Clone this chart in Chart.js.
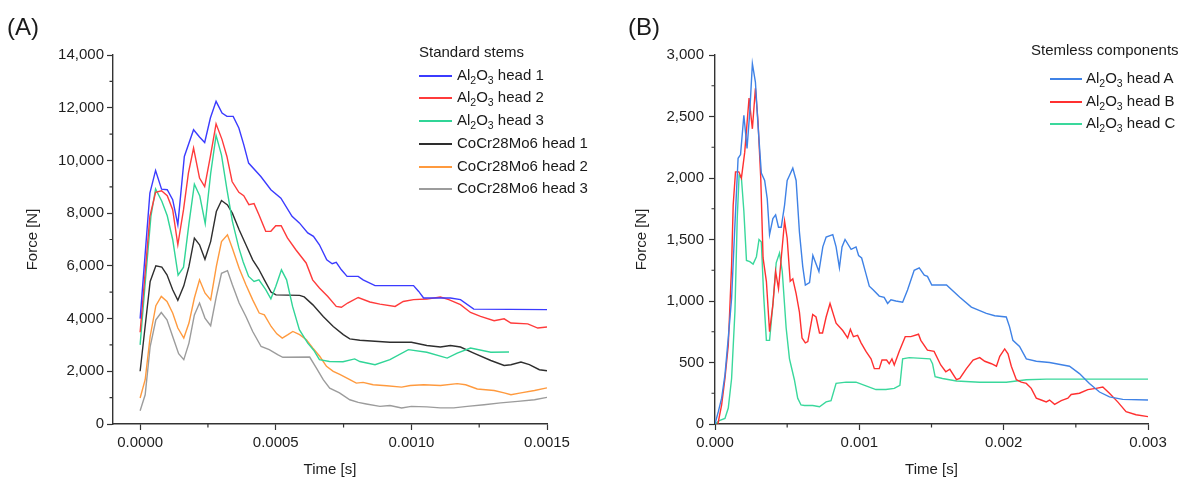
<!DOCTYPE html>
<html>
<head>
<meta charset="utf-8">
<script src="https://cdn.jsdelivr.net/npm/chart.js@4/dist/chart.umd.min.js"></script>
<style>
  html, body { margin: 0; padding: 0; background: #fff; }
  body { width: 1184px; height: 481px; position: relative; overflow: hidden;
         font-family: "Liberation Sans", Arial, sans-serif; color: #1a1a1a; }
  canvas { position: absolute; top: 0; }
  #chartA { left: 0; }
  #chartB { left: 592px; }
  .panel { position: absolute; top: 12px; font-size: 24px; line-height: 30px; }
  .legend-title, .legend-label { position: absolute; font-size: 15px; line-height: 20px; white-space: nowrap; }
  .legend-line { position: absolute; height: 2px; }
  sub { font-size: 10.5px; vertical-align: baseline; position: relative; top: 3.5px; line-height: 0; }
</style>
</head>
<body>
<canvas id="chartA" width="592" height="481"></canvas>
<canvas id="chartB" width="592" height="481"></canvas>
<div class="panel" style="left:7px">(A)</div>
<div class="panel" style="left:628px">(B)</div>
<div id="legendA"></div>
<div id="legendB"></div>
<script>
// ============================================
// DATA  (time [s], force [N])
// ============================================

const leftXTicks = [0, 0.0005, 0.001, 0.0015];
const leftYTicks = [0, 2000, 4000, 6000, 8000, 10000, 12000, 14000];
const rightXTicks = [0, 0.001, 0.002, 0.003];
const rightYTicks = [0, 500, 1000, 1500, 2000, 2500, 3000];

const leftTitle = 'Standard stems';
const leftNames = ['Al2O3 head 1', 'Al2O3 head 2', 'Al2O3 head 3',
                   'CoCr28Mo6 head 1', 'CoCr28Mo6 head 2', 'CoCr28Mo6 head 3'];
const rightTitle = 'Stemless components';
const rightNames = ['Al2O3 head A', 'Al2O3 head B', 'Al2O3 head C'];

const alHead1 = [[0,4000],[0.000036,8760],[0.000057,9620],[0.000079,8910],[0.0001,8890],[0.00012,8510],
  [0.000139,7560],[0.000163,10150],[0.000197,11165],[0.000219,10890],[0.000238,10680],[0.000259,11610],
  [0.00028,12240],[0.000302,11800],[0.00032,11670],[0.000343,11670],[0.000364,11230],[0.000382,10600],
  [0.0004,9900],[0.000445,9390],[0.000482,8890],[0.000519,8570],[0.00056,7880],[0.000587,7630],
  [0.000618,7250],[0.000639,7120],[0.000661,6800],[0.000688,6230],[0.000708,6080],[0.000723,6130],
  [0.000742,5850],[0.000763,5600],[0.000804,5600],[0.000822,5470],[0.000866,5250],[0.001008,5250],
  [0.001027,5030],[0.001045,4780],[0.001144,4780],[0.001181,4720],[0.00123,4360],[0.0015,4340]];

const alHead2 = [[0,3480],[0.000036,7880],[0.000057,8790],[0.000079,8850],[0.0001,8660],[0.00012,8130],
  [0.000139,6800],[0.00016,8130],[0.000178,9520],[0.000197,10470],[0.000219,9330],[0.000238,9010],
  [0.000259,10150],[0.00028,11390],[0.000302,10790],[0.00032,10150],[0.000339,9200],[0.000364,8790],
  [0.000382,8660],[0.000401,8320],[0.00042,8360],[0.000438,7940],[0.000463,7310],[0.000482,7310],
  [0.0005,7520],[0.00052,7520],[0.000543,7060],[0.000574,6610],[0.000612,6110],[0.000636,5470],
  [0.000661,5160],[0.000692,4840],[0.000723,4460],[0.000742,4430],[0.000765,4590],[0.000804,4800],
  [0.000847,4630],[0.000884,4550],[0.00094,4460],[0.00097,4650],[0.001008,4720],[0.001057,4740],
  [0.001107,4820],[0.001138,4720],[0.001181,4530],[0.001218,4230],[0.001255,4080],[0.001305,3920],
  [0.001342,3990],[0.001367,3830],[0.001429,3800],[0.001466,3640],[0.0015,3680]];

const alHead3 = [[0,3000],[0.00002,5500],[0.00004,7900],[0.000057,8920],[0.00008,8450],[0.0001,7900],
  [0.00012,7000],[0.00014,5650],[0.00016,5950],[0.00018,7600],[0.0002,9100],[0.00022,8650],
  [0.00024,7600],[0.00026,9500],[0.00028,10950],[0.0003,10200],[0.00032,8900],[0.00034,7700],
  [0.000364,6680],[0.00038,6150],[0.0004,5600],[0.00042,5410],[0.000438,5470],[0.000463,5100],
  [0.000482,4750],[0.0005,5220],[0.000521,5850],[0.00054,5470],[0.000562,4460],[0.000587,3580],
  [0.000618,3070],[0.00064,2800],[0.000661,2440],[0.000698,2370],[0.000748,2360],[0.000791,2470],
  [0.00081,2370],[0.000866,2250],[0.000921,2440],[0.000989,2820],[0.001057,2720],[0.001132,2500],
  [0.001169,2690],[0.001218,2880],[0.001293,2720],[0.00136,2730]];

const coHead1 = [[0,2000],[0.000037,5410],[0.000058,6000],[0.00008,5950],[0.000099,5660],[0.00012,5090],
  [0.000139,4690],[0.000161,5240],[0.00018,5980],[0.0002,7050],[0.000219,6800],[0.000239,6250],
  [0.00026,6920],[0.000281,8060],[0.0003,8480],[0.000322,8310],[0.00034,8000],[0.000365,7370],
  [0.00039,6800],[0.000415,6230],[0.000437,5880],[0.000458,5470],[0.000483,5000],[0.000501,4900],
  [0.000588,4880],[0.000605,4820],[0.000637,4520],[0.000675,4080],[0.000712,3700],[0.000749,3390],
  [0.000773,3230],[0.00081,3180],[0.000921,3100],[0.001,3100],[0.001057,2980],[0.001107,2920],
  [0.001144,2980],[0.001181,2920],[0.00123,2690],[0.001293,2410],[0.001342,2220],[0.001367,2250],
  [0.001404,2350],[0.001435,2250],[0.001472,2060],[0.0015,2020]];

const coHead2 = [[0,985],[0.0000186,1680],[0.000037,3320],[0.000058,4490],[0.000078,4840],[0.000099,4650],
  [0.00012,4210],[0.000139,3640],[0.000161,3260],[0.00018,3830],[0.0002,4780],[0.000219,5470],
  [0.000239,4970],[0.00026,4710],[0.000281,5980],[0.0003,6920],[0.000322,7180],[0.00034,6670],
  [0.000365,5910],[0.00039,5280],[0.000415,4710],[0.000439,4210],[0.000458,4140],[0.000483,3700],
  [0.000504,3420],[0.000524,3260],[0.000545,3390],[0.000563,3510],[0.000588,3390],[0.000613,3200],
  [0.000637,2880],[0.000662,2570],[0.000687,2190],[0.000712,2000],[0.000736,1880],[0.000773,1680],
  [0.000797,1550],[0.000822,1580],[0.000859,1490],[0.000909,1450],[0.000964,1400],[0.000996,1460],
  [0.001045,1490],[0.001107,1460],[0.001169,1530],[0.0012,1490],[0.001243,1330],[0.001305,1270],
  [0.001342,1180],[0.001367,1110],[0.001404,1180],[0.001454,1270],[0.0015,1370]];

const coHead3 = [[0,505],[0.0000186,1110],[0.000037,2940],[0.000058,3950],[0.000078,4230],[0.000099,3950],
  [0.00012,3320],[0.000142,2670],[0.000161,2440],[0.00018,3070],[0.0002,4140],[0.000219,4590],
  [0.000239,4020],[0.00026,3730],[0.000281,4840],[0.0003,5720],[0.000322,5820],[0.00034,5280],
  [0.000365,4590],[0.00039,4080],[0.000415,3510],[0.000446,2940],[0.000476,2820],[0.000507,2630],
  [0.000526,2530],[0.000625,2540],[0.00065,2120],[0.000675,1680],[0.000699,1360],[0.000735,1180],
  [0.000773,920],[0.000804,820],[0.000834,760],[0.000884,670],[0.000921,700],[0.000964,610],
  [0.001,670],[0.001057,650],[0.001107,610],[0.001156,610],[0.001206,670],[0.001268,730],
  [0.001329,800],[0.001392,860],[0.001454,920],[0.0015,1010]];

const alHeadA = [[0,0],[0.000023,100],[0.000046,210],[0.000069,400],[0.000092,700],[0.000115,1020],
  [0.000138,1620],[0.00016,2160],[0.000177,2190],[0.0002,2510],[0.000222,2240],[0.000241,2540],
  [0.000259,2930],[0.00028,2780],[0.000298,2430],[0.000321,2040],[0.000344,1980],[0.000362,1830],
  [0.000378,1540],[0.000401,1670],[0.00042,1700],[0.00044,1600],[0.000459,1600],[0.000482,1780],
  [0.0005,1980],[0.000516,2020],[0.000539,2080],[0.000562,1980],[0.000585,1560],[0.000608,1280],
  [0.000626,1130],[0.000655,1150],[0.000678,1370],[0.00072,1240],[0.000747,1440],[0.00077,1520],
  [0.000816,1540],[0.000839,1440],[0.000862,1270],[0.00088,1440],[0.000901,1500],[0.000943,1420],
  [0.000977,1440],[0.000995,1370],[0.001016,1350],[0.001046,1220],[0.001069,1120],[0.001097,1090],
  [0.001138,1040],[0.001172,1030],[0.001196,980],[0.001219,1010],[0.001253,1000],[0.0013,990],
  [0.001334,1090],[0.00138,1250],[0.001415,1270],[0.00145,1210],[0.001472,1200],[0.001502,1130],
  [0.001604,1130],[0.001696,1030],[0.001776,950],[0.00188,900],[0.001938,880],[0.002018,870],
  [0.002041,790],[0.002064,680],[0.00211,630],[0.002157,530],[0.002226,510],[0.002318,500],
  [0.00241,480],[0.002456,470],[0.002525,410],[0.002594,330],[0.002664,260],[0.002733,220],
  [0.002825,200],[0.003,195]];

const alHeadB = [[0.00002,0],[0.000046,155],[0.000069,370],[0.000092,640],[0.000115,1290],[0.000126,1780],
  [0.000142,2050],[0.000165,2050],[0.000183,2000],[0.000206,2210],[0.000236,2650],[0.000259,2400],
  [0.00028,2730],[0.000298,2460],[0.000317,2000],[0.000333,1350],[0.000356,1160],[0.000378,750],
  [0.000401,970],[0.00042,1240],[0.00044,1100],[0.000459,1350],[0.000482,1650],[0.0005,1510],
  [0.000521,1160],[0.000539,1180],[0.000562,1060],[0.000585,910],[0.000603,700],[0.000626,660],
  [0.000643,670],[0.000677,890],[0.0007,870],[0.000724,740],[0.000745,740],[0.00077,870],
  [0.000797,980],[0.000839,820],[0.000885,760],[0.000919,700],[0.000938,770],[0.000959,710],
  [0.000988,720],[0.001012,660],[0.001046,590],[0.001081,530],[0.001104,450],[0.001138,450],
  [0.001157,520],[0.001189,520],[0.001207,490],[0.001226,530],[0.001242,480],[0.001276,590],
  [0.001318,710],[0.001357,710],[0.00141,730],[0.001426,680],[0.001472,600],[0.001518,590],
  [0.001564,480],[0.001599,425],[0.001627,445],[0.001673,360],[0.001696,370],[0.001742,450],
  [0.001788,520],[0.001834,540],[0.001869,510],[0.001915,490],[0.00195,470],[0.001973,550],
  [0.002007,610],[0.00203,570],[0.002053,470],[0.002088,360],[0.002122,340],[0.002157,330],
  [0.002191,290],[0.002226,210],[0.00226,195],[0.002295,180],[0.002318,195],[0.002353,160],
  [0.002399,190],[0.002445,210],[0.002468,240],[0.002525,250],[0.002583,280],[0.00264,290],
  [0.002687,300],[0.002733,250],[0.00279,180],[0.002848,100],[0.002917,75],[0.003,60]];

const alHeadC = [[0,0],[0.000034,30],[0.000069,45],[0.000092,130],[0.000115,370],[0.000138,910],
  [0.000154,1670],[0.000167,2020],[0.000183,2000],[0.0002,1730],[0.000218,1330],[0.000241,1320],
  [0.000264,1300],[0.000287,1360],[0.000305,1500],[0.000321,1480],[0.000337,1050],[0.000356,680],
  [0.000378,680],[0.000401,970],[0.000424,1310],[0.000447,1390],[0.000466,1240],[0.000493,780],
  [0.000516,530],[0.00055,360],[0.000573,210],[0.000596,155],[0.00062,150],[0.000677,150],
  [0.000724,140],[0.00077,180],[0.000804,190],[0.000839,330],[0.000908,340],[0.000977,340],
  [0.001046,310],[0.001115,280],[0.001184,280],[0.001242,290],[0.001281,315],[0.0013,530],
  [0.001346,540],[0.00149,530],[0.001507,490],[0.001525,385],[0.001576,370],[0.001673,350],
  [0.001834,340],[0.002018,340],[0.002157,360],[0.002295,365],[0.003,365]];

const leftSeries = [alHead1, alHead2, alHead3, coHead1, coHead2, coHead3];
const rightSeries = [alHeadA, alHeadB, alHeadC];

// ============================================
// STYLE
// ============================================

const leftColors = ['#3b3bff', '#ff3b3b', '#30d597', '#2e2e2e', '#ff9a3e', '#9c9c9c'];
const rightColors = ['#3f82e6', '#ff3030', '#3ad89c'];
const axisColor = '#333';
const textColor = '#1e1e1e';

Chart.defaults.font.family = '"Liberation Sans", Arial, sans-serif';
Chart.defaults.font.size = 15;
Chart.defaults.color = textColor;

// short outward ticks halfway between the labelled ones
function minorTicksPlugin(xMajor, yMajor) {
    const mid = arr => arr.slice(1).map((v, i) => (v + arr[i]) / 2);
    const xs = mid(xMajor), ys = mid(yMajor);
    return {
        id: 'minorTicks',
        afterDraw(chart) {
            const ctx = chart.ctx;
            const x = chart.scales.x, y = chart.scales.y;
            ctx.save();
            ctx.strokeStyle = axisColor;
            ctx.lineWidth = 1.2;
            ctx.beginPath();
            xs.forEach(v => {
                const px = x.getPixelForValue(v);
                ctx.moveTo(px, x.top);
                ctx.lineTo(px, x.top + 3.5);
            });
            ys.forEach(v => {
                const py = y.getPixelForValue(v);
                ctx.moveTo(y.right, py);
                ctx.lineTo(y.right - 3.5, py);
            });
            ctx.stroke();
            ctx.restore();
        }
    };
}

function makeChart(id, o) {
    const datasets = o.series.map((s, i) => ({
        label: o.names[i],
        data: s.map(p => ({ x: p[0], y: p[1] })),
        borderColor: o.colors[i],
        borderWidth: 1.4,
        pointRadius: 0,
        tension: 0,
        fill: false
    }));
    const gridOpts = { drawOnChartArea: false, drawTicks: true, tickLength: 6, tickColor: axisColor, tickWidth: 1.2 };
    const borderOpts = { display: true, color: axisColor, width: 1.4 };
    return new Chart(document.getElementById(id), {
        type: 'line',
        data: { datasets },
        plugins: [minorTicksPlugin(o.xTicks, o.yTicks)],
        options: {
            responsive: false,
            animation: false,
            devicePixelRatio: 1,
            layout: { padding: { left: 0, top: 55, right: o.padRight, bottom: 0 } },
            plugins: { legend: { display: false }, tooltip: { enabled: false } },
            scales: {
                x: {
                    type: 'linear',
                    min: o.xMin, max: o.xMax,
                    afterBuildTicks: s => { s.ticks = o.xTicks.map(v => ({ value: v })); },
                    afterFit: s => { s.height = 57; },
                    ticks: { callback: v => v.toFixed(o.xDigits), padding: 4, maxRotation: 0, autoSkip: false, color: textColor },
                    grid: gridOpts,
                    border: borderOpts,
                    title: { display: true, text: 'Time [s]', color: textColor, padding: { top: 0, bottom: 2 } }
                },
                y: {
                    type: 'linear',
                    min: o.yMin, max: o.yMax,
                    afterBuildTicks: s => { s.ticks = o.yTicks.map(v => ({ value: v })); },
                    afterFit: s => { s.width = o.yWidth; },
                    ticks: { callback: v => v.toLocaleString('en-US'), padding: o.yPad, color: textColor },
                    grid: gridOpts,
                    border: borderOpts,
                    title: { display: true, text: 'Force [N]', color: textColor, padding: { top: o.yTitlePad, bottom: 0 } }
                }
            }
        }
    });
}

makeChart('chartA', {
    series: leftSeries, names: leftNames, colors: leftColors,
    xTicks: leftXTicks, yTicks: leftYTicks,
    xMin: -0.0001, xMax: 0.0015, yMin: 0, yMax: 14000, xDigits: 4,
    padRight: 45, yWidth: 113, yPad: 3, yTitlePad: 24
});

makeChart('chartB', {
    series: rightSeries, names: rightNames, colors: rightColors,
    xTicks: rightXTicks, yTicks: rightYTicks,
    xMin: 0, xMax: 0.003, yMin: 0, yMax: 3000, xDigits: 3,
    padRight: 36, yWidth: 123, yPad: 5, yTitlePad: 41
});

// ============================================
// LEGENDS (HTML, for the subscripts)
// ============================================

function formatName(name) {
    return name.replace('Al2O3', 'Al<sub>2</sub>O<sub>3</sub>');
}

function buildLegend(elId, title, names, colors, g) {
    const el = document.getElementById(elId);
    let html = `<div class="legend-title" style="left:${g.titleLeft}px;top:${g.titleY - 10}px">${title}</div>`;
    names.forEach((n, i) => {
        const cy = Math.round(g.rowY + i * g.step);
        html += `<div class="legend-line" style="left:${g.lineLeft}px;top:${cy - 1}px;width:${g.lineWidth}px;background:${colors[i]}"></div>`;
        html += `<div class="legend-label" style="left:${g.textLeft}px;top:${cy - 11}px">${formatName(n)}</div>`;
    });
    el.innerHTML = html;
}

buildLegend('legendA', leftTitle, leftNames, leftColors,
    { titleLeft: 419, titleY: 52, lineLeft: 419, lineWidth: 33, textLeft: 457, rowY: 75.7, step: 22.7 });
buildLegend('legendB', rightTitle, rightNames, rightColors,
    { titleLeft: 1031, titleY: 50, lineLeft: 1050, lineWidth: 32, textLeft: 1086, rowY: 79, step: 22.5 });
</script>
</body>
</html>
